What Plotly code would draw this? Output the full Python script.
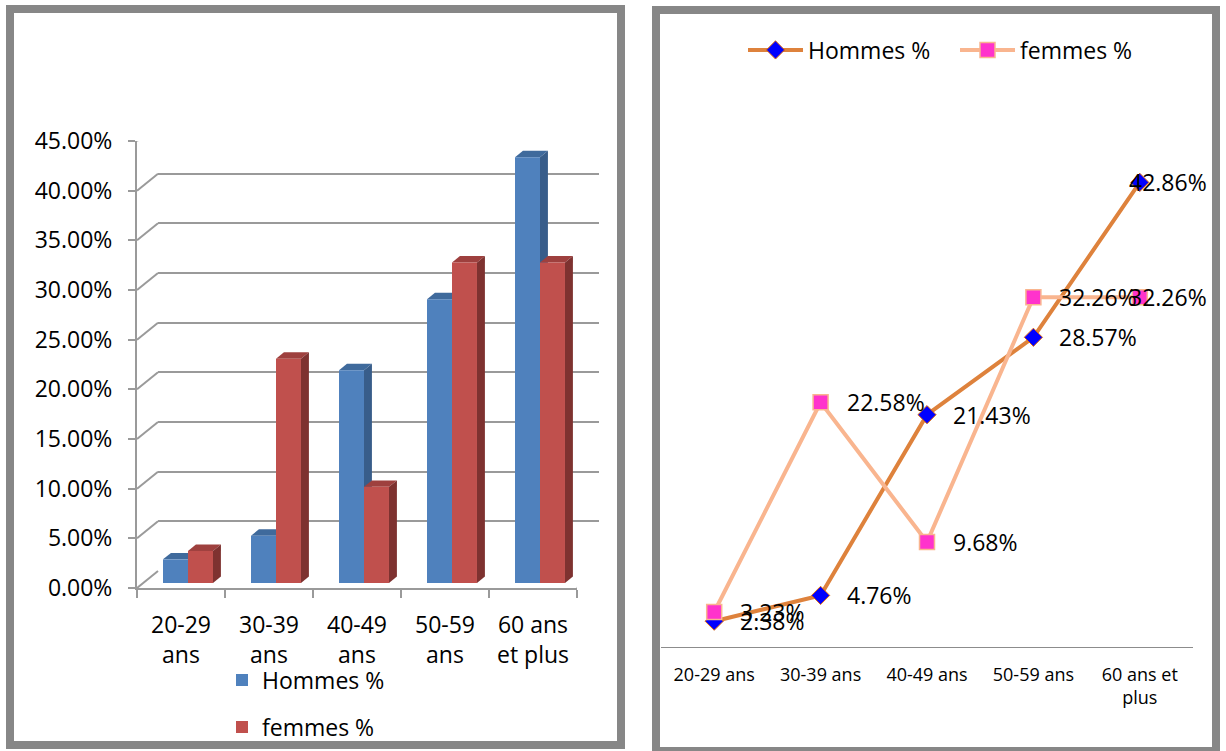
import plotly.graph_objects as go

# ---- data -------------------------------------------------------------
age_bar_labels = ["20-29<br>ans", "30-39<br>ans", "40-49<br>ans", "50-59<br>ans", "60 ans<br>et plus"]
age_line_labels = ["20-29 ans", "30-39 ans", "40-49 ans", "50-59 ans", "60 ans et<br>plus"]
hommes = [2.38, 4.76, 21.43, 28.57, 42.86]
femmes = [3.23, 22.58, 9.68, 32.26, 32.26]
y_ticks = [0, 5, 10, 15, 20, 25, 30, 35, 40, 45]
y_tick_text = [f"{t:.2f}%" for t in y_ticks]

# ---- page geometry (pixels) ------------------------------------------
W, H = 1226, 751


def fx(px):
    return px / W


def fy(py):
    return 1 - py / H


FONT = "Open Sans"
GRID = "#9a9a9a"
BLUE, BLUE_TOP, BLUE_SIDE = "#4F81BD", "#3F6A9C", "#385D8A"
RED, RED_TOP, RED_SIDE = "#C0504D", "#9E403E", "#7E3230"
ORANGE, SALMON = "#DE823C", "#F9B58F"

# left chart: front plane, back wall and the plane that carries the bars
FX0, FX1, FY0, FY1 = 137, 577, 588, 141
BACK_DX, BACK_DY = 21, 17
BAR_DX, BAR_DY = 7, 5
BAR_W = 0.284          # bar width, in category units
DEPTH_X = 0.09          # 3D depth, in category units
DEPTH_Y = 0.65          # 3D depth, in percent units

fig = go.Figure()

n = len(hommes)
xs = list(range(n))

# back wall subplot (only carries the gridlines)
fig.add_trace(go.Scatter(x=[None], y=[None], xaxis="x2", yaxis="y2", showlegend=False,
                         hoverinfo="skip", mode="markers"))

# front faces of the bars
fig.add_trace(go.Bar(x=xs, y=hommes, name="Hommes %", marker=dict(color=BLUE, line=dict(width=0)),
                     xaxis="x3", yaxis="y3", legend="legend", hoverinfo="skip"))
fig.add_trace(go.Bar(x=xs, y=femmes, name="femmes %", marker=dict(color=RED, line=dict(width=0)),
                     xaxis="x3", yaxis="y3", legend="legend2", hoverinfo="skip"))

# top and side faces of the bars (drawn under the front faces)
shapes = []
for series, offset, top_c, side_c in ((hommes, -BAR_W, BLUE_TOP, BLUE_SIDE), (femmes, 0.0, RED_TOP, RED_SIDE)):
    for i, v in enumerate(series):
        xl = i + offset
        xr = xl + BAR_W
        top = (f"M{xl},{v} L{xr},{v} L{xr + DEPTH_X},{v + DEPTH_Y} "
               f"L{xl + DEPTH_X},{v + DEPTH_Y} Z")
        side = (f"M{xr},0 L{xr},{v} L{xr + DEPTH_X},{v + DEPTH_Y} "
                f"L{xr + DEPTH_X},{DEPTH_Y} Z")
        for path, col in ((top, top_c), (side, side_c)):
            shapes.append(dict(type="path", path=path, xref="x3", yref="y3", layer="below",
                               fillcolor=col, line=dict(width=0)))

# diagonal edges joining the front axis to the back wall
for t in y_ticks:
    shapes.append(dict(type="line", xref="x", yref="y", xsizemode="pixel", ysizemode="pixel",
                       xanchor=-0.5, yanchor=t, x0=0, x1=BACK_DX, y0=0, y1=BACK_DY,
                       line=dict(color=GRID, width=2)))
shapes.append(dict(type="line", xref="x", yref="y", xsizemode="pixel", ysizemode="pixel",
                   xanchor=n - 0.5, yanchor=0, x0=0, x1=BACK_DX + 1, y0=0, y1=BACK_DY,
                   line=dict(color=GRID, width=2)))

# right chart: line series
fig.add_trace(go.Scatter(x=age_line_labels, y=hommes, name="Hommes %", mode="lines+markers",
                         line=dict(color=ORANGE, width=4),
                         marker=dict(symbol="diamond", size=14, color="#0000FF",
                                     line=dict(color="#E46C0A", width=1)),
                         xaxis="x4", yaxis="y4", legend="legend3", hoverinfo="skip"))
fig.add_trace(go.Scatter(x=age_line_labels, y=femmes, name="femmes %", mode="lines+markers",
                         line=dict(color=SALMON, width=4),
                         marker=dict(symbol="square", size=15, color="#FF33CC",
                                     line=dict(color=SALMON, width=1.5)),
                         xaxis="x4", yaxis="y4", legend="legend3", hoverinfo="skip"))

annotations = []
for series in (hommes, femmes):
    for i, v in enumerate(series):
        last = i == n - 1
        annotations.append(dict(x=age_line_labels[i], y=v, xref="x4", yref="y4", text=f"{v:.2f}%",
                                showarrow=False, xanchor="left", yanchor="middle",
                                xshift=-13 if last else 24,
                                font=dict(family=FONT, size=23, color="black")))

# panel frames
def frame(x0, y0, x1, y1):
    return dict(type="rect", xref="paper", yref="paper", x0=fx(x0), x1=fx(x1), y0=fy(y1), y1=fy(y0),
                line=dict(color="#878787", width=8), layer="above")


shapes.append(frame(10, 9, 621, 745))
shapes.append(frame(656, 10, 1216, 751))

RY0 = 647
RY1 = RY0 - 45 * 10.84

legend_common = dict(xanchor="left", yanchor="middle", bgcolor="rgba(0,0,0,0)", borderwidth=0)

fig.update_layout(
    width=W, height=H, margin=dict(l=0, r=0, t=0, b=0, autoexpand=False),
    paper_bgcolor="white", plot_bgcolor="rgba(0,0,0,0)",
    font=dict(family=FONT, size=23, color="black"),
    barmode="group", bargap=1 - 2 * BAR_W, bargroupgap=0,
    showlegend=True,
    # front plane of the bar chart
    xaxis=dict(domain=[fx(FX0), fx(FX1)], type="category", categoryarray=age_bar_labels,
               range=[-0.5, n - 0.5], tickson="boundaries", ticks="outside", ticklen=8,
               tickcolor=GRID, tickwidth=2, showline=True, linecolor=GRID, linewidth=2,
               showgrid=False, anchor="y", ticklabelstandoff=15, automargin=False,
               tickfont=dict(family=FONT, size=23)),
    yaxis=dict(domain=[fy(FY0), fy(FY1)], range=[0, 45], tickvals=y_ticks, ticktext=y_tick_text,
               ticks="outside", ticklen=7, tickcolor=GRID, tickwidth=2,
               showline=True, linecolor=GRID, linewidth=2, showgrid=False, zeroline=False,
               anchor="x", ticklabelstandoff=11, automargin=False,
               tickfont=dict(family=FONT, size=23)),
    # back wall
    xaxis2=dict(domain=[fx(FX0 + BACK_DX), fx(FX1 + BACK_DX + 1)], range=[-0.5, n - 0.5],
                showgrid=False, zeroline=False, showticklabels=False, ticks="", showline=False,
                anchor="y2", automargin=False),
    yaxis2=dict(domain=[fy(FY0 - BACK_DY), fy(FY1 - BACK_DY)], range=[-0.001, 45.001],
                tickvals=y_ticks, showgrid=True, gridcolor=GRID, gridwidth=2, zeroline=False,
                showticklabels=False, ticks="", showline=False, anchor="x2", automargin=False),
    # plane of the bars
    xaxis3=dict(domain=[fx(FX0 + BAR_DX), fx(FX1 + BAR_DX)], range=[-0.5, n - 0.5],
                visible=False, anchor="y3"),
    yaxis3=dict(domain=[fy(FY0 - BAR_DY), fy(FY1 - BAR_DY)], range=[0, 45],
                visible=False, anchor="x3"),
    # line chart
    xaxis4=dict(domain=[fx(661), fx(1193)], type="category", range=[-0.5, n - 0.5],
                showline=True, linecolor="#8c8c8c", linewidth=1, ticks="", showgrid=False,
                anchor="y4", ticklabelstandoff=11, automargin=False,
                tickfont=dict(family=FONT, size=18)),
    yaxis4=dict(domain=[fy(RY0), fy(RY1)], range=[0, 45], visible=False, anchor="x4"),
    legend=dict(x=fx(222), y=fy(680), font=dict(family=FONT, size=23), **legend_common),
    legend2=dict(x=fx(222), y=fy(727), font=dict(family=FONT, size=23), **legend_common),
    legend3=dict(x=fx(743), y=fy(50), orientation="h", font=dict(family=FONT, size=23),
                 itemwidth=55, entrywidth=142, **legend_common),
    shapes=shapes,
    annotations=annotations,
)

fig.write_html("out.html")
